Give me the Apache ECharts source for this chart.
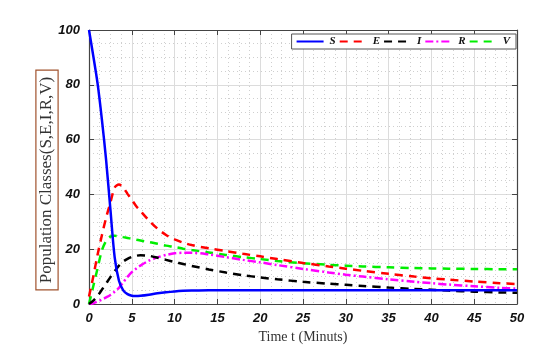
<!DOCTYPE html>
<html>
<head>
<meta charset="utf-8">
<script src="https://cdn.jsdelivr.net/npm/echarts@6/dist/echarts.min.js"></script>
<style>html,body{margin:0;padding:0;background:#fff}#c{width:558px;height:349px}</style>
</head>
<body>
<div id="c"></div>
<script>
var t = [0,0.5,1,1.5,2,2.5,3,3.5,4,4.5,5,5.5,6,7,8,9,10,11,12,14,16,18,20,22,25,28,30,32,35,38,40,42,45,48,50];
var S = [100,90.5,80.5,67.5,52.5,34.5,17,8.5,5,3.6,3.0,2.9,3.0,3.4,3.9,4.3,4.6,4.8,4.9,5.0,5.0,5.0,5.0,5.0,5.0,5.0,5.0,5.0,5.0,5.0,5.0,5.0,5.0,5.0,5.0];
var E = [2.7,10,18,25,31.5,37,42.5,43.6,42.5,40.2,38,35.8,34,30.5,27.5,25.2,23.6,22.4,21.5,20.3,19.3,18.3,17.4,16.4,15.0,13.7,12.9,12.1,11.0,10.0,9.4,8.9,8.2,7.6,7.3];
var I = [0,1.2,3,5.2,7.5,9.8,12,14,15.5,16.5,17.2,17.6,17.8,17.6,16.9,16.1,15.3,14.6,13.9,12.6,11.5,10.5,9.7,9.0,8.1,7.4,7.0,6.6,6.0,5.5,5.2,4.9,4.5,4.2,4.1];
var R = [0,0.3,0.9,1.6,2.4,3.3,4.5,5.9,7.9,9.9,11.6,12.9,14.0,15.8,17.0,17.9,18.5,18.7,18.7,18.1,17.1,16.1,15.2,14.2,12.8,11.5,10.7,10.0,9.0,8.1,7.6,7.1,6.5,5.9,5.6];
var V = [0,6.5,13,19.5,23,24.6,24.9,24.7,24.4,24.1,23.8,23.5,23.2,22.6,22.0,21.3,20.8,20.2,19.7,18.8,17.9,17.1,16.4,15.7,14.9,14.3,14.0,13.7,13.4,13.1,13.0,12.9,12.8,12.7,12.7];
var xTicks = [0,5,10,15,20,25,30,35,40,45,50];
var yTicks = [0,20,40,60,80,100];
var names = ['S','E','I','R','V'];
var xTitle = 'Time t (Minuts)';
var yTitle = 'Population Classes(S,E,I,R,V)';

function pairs(arr){ return t.map(function(x,i){ return [x, arr[i]]; }); }

var chart = echarts.init(document.getElementById('c'), null, {renderer:'canvas'});
var axisCol = '#444';
var labelStyle = {color:'#111', fontFamily:'Liberation Sans', fontStyle:'italic', fontWeight:'bold', fontSize:13};
function mkX(pos, main){
  return {
    type:'value', position:pos, min:xTicks[0], max:xTicks[xTicks.length-1], interval:5,
    axisLine:{show:true, onZero:false, lineStyle:{color:axisCol, width:1.2}},
    axisTick:{show:true, inside:true, length:5, lineStyle:{color:axisCol}},
    axisLabel:{show:main, margin:8, ...labelStyle},
    splitLine:{show:main, lineStyle:{color:'#dcdcdc', width:1}},
    minorTick:{show:false, splitNumber:4},
    minorSplitLine:{show:main, lineStyle:{color:'#cfcfcf', type:[1,3], width:1}},
    name: main ? xTitle : '', nameLocation:'middle', nameGap:26,
    nameTextStyle:{fontFamily:'Liberation Serif', fontSize:14, color:'#333'}
  };
}
function mkY(pos, main){
  return {
    type:'value', position:pos, min:yTicks[0], max:yTicks[yTicks.length-1], interval:20,
    axisLine:{show:true, onZero:false, lineStyle:{color:axisCol, width:1.2}},
    axisTick:{show:true, inside:true, length:5, lineStyle:{color:axisCol}},
    axisLabel:{show:main, margin:9, ...labelStyle},
    splitLine:{show:main, lineStyle:{color:'#dcdcdc', width:1}},
    minorTick:{show:false, splitNumber:4},
    minorSplitLine:{show:main, lineStyle:{color:'#cfcfcf', type:[1,3], width:1}}
  };
}
var styles = [
  {color:'#0000ff', type:'solid', width:2.5},
  {color:'#ff0000', type:[8,6], width:2.5},
  {color:'#000000', type:[8,6], width:2.5},
  {color:'#ff00ff', type:[8,3,2,3], width:2.5},
  {color:'#00ee00', type:[8,6], width:2.5}
];
var data = [S,E,I,R,V];
var series = names.map(function(n,i){
  return {name:n, type:'line', xAxisIndex:0, yAxisIndex:0, data:pairs(data[i]), showSymbol:false, symbol:'none',
    smooth:0.3, lineStyle:styles[i], itemStyle:{color:styles[i].color}, z:10-i};
});
chart.setOption({
  animation:false,
  backgroundColor:'#fff',
  grid:{left:89, right:41, top:30, bottom:45},
  xAxis:[mkX('bottom', true), mkX('top', false)],
  yAxis:[mkY('left', true), mkY('right', false)],
  legend:{
    data:names, top:34, right:42, orient:'horizontal',
    backgroundColor:'#fff', borderColor:'#555', borderWidth:1, padding:[2,6,2,4],
    itemWidth:27, itemHeight:10, itemGap:3,
    itemStyle:{opacity:0},
    textStyle:{fontFamily:'Liberation Serif', fontStyle:'italic', fontWeight:'bold', fontSize:11, color:'#111', padding:[0,0,0,1]}
  },
  graphic:[{
    type:'text', x:47, y:180, rotation:Math.PI/2, z:20,
    style:{text:yTitle, fontFamily:'Liberation Serif', fontSize:17, fill:'#333',
      align:'center', verticalAlign:'middle',
      borderColor:'#a0522d', borderWidth:1.2, padding:[2,6,2,6], backgroundColor:'#fff'}
  }],
  series:series
});
</script>
</body>
</html>
